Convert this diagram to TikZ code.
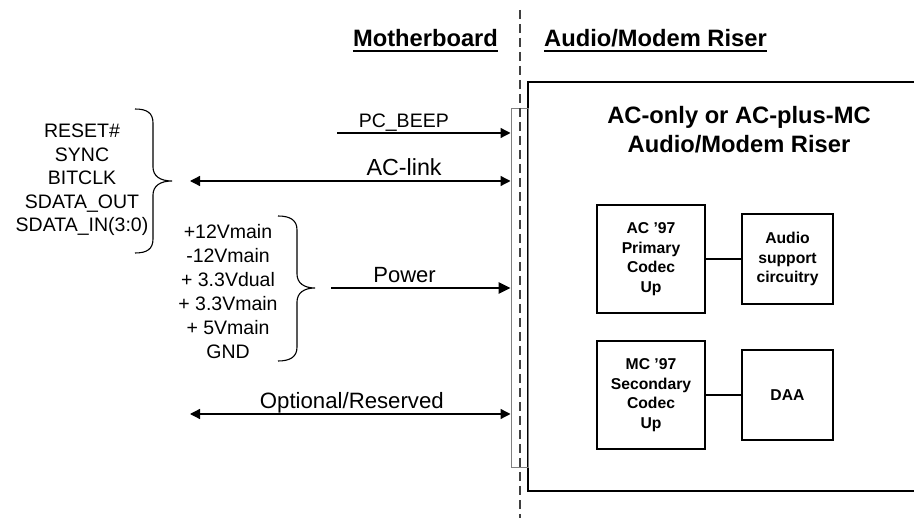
\documentclass[tikz,border=0pt]{standalone}
\usepackage{fontspec}
\setmainfont{Liberation Sans}
\usetikzlibrary{arrows.meta,positioning}

\begin{document}
\begin{tikzpicture}[
  x=1pt, y=-1pt, >={Triangle[length=10pt,width=10pt]},
  every node/.style={font=\fontsize{19.5}{23.5}\selectfont},
  heading/.style={inner sep=0pt, anchor=base, font=\fontsize{23.7}{28}\selectfont\bfseries},
  sig/.style={line width=1.3pt},
  lbl/.style={anchor=base, yshift=5.5pt, inner sep=0pt},
  curly/.style={line width=1.1pt},
  codecbox/.style={draw, line width=2pt, align=center, inner sep=0pt,
                   font=\fontsize{15.7}{19.5}\selectfont\bfseries}
]
  \useasboundingbox (0,0) rectangle (914,518);
  % headings
  \node[heading] (mb) at (425.5,47) {Motherboard};
  \node[heading] (amr) at (655.5,47) {Audio/Modem Riser};
  \draw[line width=2pt] ([yshift=-4pt]mb.base west) -- ([yshift=-4pt]mb.base east);
  \draw[line width=2pt] ([yshift=-4pt]amr.base west) -- ([yshift=-4pt]amr.base east);
  % riser card (runs off the right edge) and connector
  \node[draw, line width=2.5pt, minimum width=392pt, minimum height=409pt,
        inner sep=0pt] (riser) at (724,286.5) {};
  \node[draw, gray, line width=1pt, minimum width=17pt, minimum height=359pt,
        inner sep=0pt] (conn) at (519.5,288.5) {};
  \coordinate (cut0) at (520,10);
  \coordinate (cut1) at (520,518);
  \draw[black!75, line width=1.3pt, dash pattern=on 9pt off 5pt] (cut0) -- (cut1);
  \node[align=center, font=\fontsize{23.7}{29}\selectfont\bfseries] (title) at (739,130)
       {AC-only or AC-plus-MC\\Audio/Modem Riser};
  % codecs
  \node[codecbox, minimum width=108pt, minimum height=108pt] (ac97) at (651,259)
       {AC '97\\Primary\\Codec\\Up};
  \node[codecbox, minimum width=91pt, minimum height=90pt, right=35pt of ac97] (audio)
       {Audio\\support\\circuitry};
  \node[codecbox, minimum width=108pt, minimum height=108pt, below=26pt of ac97] (mc97)
       {MC '97\\Secondary\\Codec\\Up};
  \node[codecbox, minimum width=91pt, minimum height=90pt, right=35pt of mc97] (daa) {DAA};
  \draw[sig] (ac97) -- (audio);
  \draw[sig] (mc97) -- (daa);
  % signal groups
  \node[align=center] (aclist) at (82,180)
       {RESET\#\\SYNC\\BITCLK\\SDATA\_OUT\\SDATA\_IN(3:0)};
  \draw[curly] (135,109) .. controls (147,109) and (153,113) .. (153,123) -- (153,167)
       .. controls (153,176) and (160,181) .. (172,181)
       .. controls (160,181) and (153,186) .. (153,195) -- (153,239)
       .. controls (153,249) and (147,253) .. (135,253);
  \node[align=center, font=\fontsize{19.5}{24}\selectfont] (pwrlist) at (228,292)
       {+12Vmain\\-12Vmain\\+ 3.3Vdual\\+ 3.3Vmain\\+ 5Vmain\\GND};
  \draw[curly] (278,216) .. controls (290,216) and (297,220) .. (297,230) -- (297,274)
       .. controls (297,283) and (304,288) .. (315,288)
       .. controls (304,288) and (297,293) .. (297,302) -- (297,347)
       .. controls (297,357) and (290,361) .. (278,361);
  % connectors to the riser
  \coordinate (beep) at (337,133);
  \coordinate (link) at (190,181);
  \coordinate (pwr) at (331,288);
  \coordinate (opt) at (190,414);
  \draw[sig, ->] (beep) -- (beep -| conn.west)
       node[lbl, pos=0.385] {PC\_BEEP};
  \draw[sig, <->] (link) -- (link -| conn.west)
       node[lbl, pos=0.668, font=\fontsize{23.3}{28}\selectfont] {AC-link};
  \draw[line width=2.5pt, -{Triangle[length=12pt,width=11pt]}] (pwr) -- (pwr -| conn.west)
       node[lbl, pos=0.41, font=\fontsize{22}{26}\selectfont] {Power};
  \draw[sig, <->] (opt) -- (opt -| conn.west)
       node[lbl, pos=0.505, font=\fontsize{22.2}{26}\selectfont] {Optional/Reserved};
\end{tikzpicture}
\end{document}
